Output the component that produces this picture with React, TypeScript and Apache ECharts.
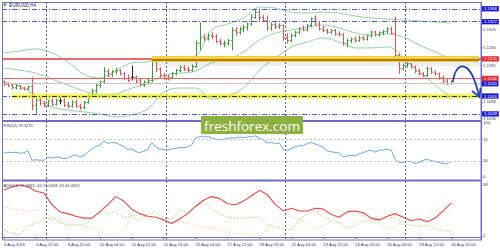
import React, { useEffect, useRef } from 'react';
import * as echarts from 'echarts';

// ---------- data ----------
const timeLabels = ['4 Aug 2016', '5 Aug 12:00', '8 Aug 20:00', '10 Aug 04:00', '11 Aug 12:00', '12 Aug 20:00', '16 Aug 04:00', '17 Aug 12:00', '18 Aug 20:00', '22 Aug 04:00', '23 Aug 12:00', '24 Aug 20:00', '26 Aug 04:00', '29 Aug 12:00', '30 Aug 20:00'];
const LABEL_STEP = 8;
const SLOT_COUNT = 120;
const weekStarts = [11, 41, 71, 101];

// [open, high, low, close] per H4 bar
const ohlc: number[][] = [
  [1.1145, 1.1150, 1.1133, 1.1138], [1.1138, 1.1143, 1.1130, 1.1134], [1.1134, 1.1142, 1.1124, 1.1128], [1.1128, 1.1138, 1.1124, 1.1133],
  [1.1133, 1.1136, 1.1122, 1.1126], [1.1126, 1.1130, 1.1120, 1.1124], [1.1124, 1.1134, 1.1121, 1.1131], [1.1131, 1.1160, 1.1060, 1.1075],
  [1.1075, 1.1098, 1.1046, 1.1090], [1.1090, 1.1098, 1.1075, 1.1080], [1.1080, 1.1088, 1.1070, 1.1074], [1.1074, 1.1092, 1.1070, 1.1088],
  [1.1088, 1.1095, 1.1072, 1.1078], [1.1078, 1.1094, 1.1074, 1.1090], [1.1088, 1.1100, 1.1078, 1.1088], [1.1088, 1.1096, 1.1070, 1.1075],
  [1.1075, 1.1085, 1.1066, 1.1072], [1.1072, 1.1090, 1.1068, 1.1085], [1.1085, 1.1092, 1.1068, 1.1072], [1.1072, 1.1080, 1.1062, 1.1068],
  [1.1068, 1.1088, 1.1064, 1.1083], [1.1083, 1.1108, 1.1080, 1.1103], [1.1103, 1.1125, 1.1098, 1.1118], [1.1118, 1.1140, 1.1112, 1.1135],
  [1.1135, 1.1150, 1.1128, 1.1146], [1.1146, 1.1190, 1.1140, 1.1178], [1.1178, 1.1185, 1.1160, 1.1168], [1.1168, 1.1182, 1.1160, 1.1176],
  [1.1176, 1.1188, 1.1168, 1.1180], [1.1180, 1.1185, 1.1165, 1.1170], [1.1170, 1.1175, 1.1150, 1.1155], [1.1155, 1.1168, 1.1145, 1.1150],
  [1.1160, 1.1195, 1.1150, 1.1160], [1.1160, 1.1165, 1.1140, 1.1148], [1.1148, 1.1155, 1.1132, 1.1138], [1.1138, 1.1150, 1.1130, 1.1145],
  [1.1145, 1.1155, 1.1138, 1.1150], [1.1150, 1.1220, 1.1145, 1.1210], [1.1210, 1.1215, 1.1175, 1.1185], [1.1185, 1.1190, 1.1158, 1.1165],
  [1.1165, 1.1172, 1.1152, 1.1160], [1.1160, 1.1168, 1.1150, 1.1158], [1.1158, 1.1175, 1.1155, 1.1170], [1.1170, 1.1185, 1.1165, 1.1180],
  [1.1180, 1.1195, 1.1175, 1.1190], [1.1190, 1.1196, 1.1178, 1.1184], [1.1184, 1.1192, 1.1175, 1.1180], [1.1180, 1.1198, 1.1176, 1.1192],
  [1.1192, 1.1270, 1.1188, 1.1262], [1.1262, 1.1325, 1.1240, 1.1280], [1.1280, 1.1290, 1.1268, 1.1275], [1.1275, 1.1292, 1.1270, 1.1285],
  [1.1285, 1.1295, 1.1275, 1.1283], [1.1283, 1.1290, 1.1262, 1.1268], [1.1268, 1.1275, 1.1255, 1.1260], [1.1260, 1.1270, 1.1250, 1.1262],
  [1.1262, 1.1275, 1.1255, 1.1270], [1.1270, 1.1310, 1.1240, 1.1300], [1.1300, 1.1310, 1.1285, 1.1295], [1.1295, 1.1312, 1.1288, 1.1305],
  [1.1305, 1.1318, 1.1295, 1.1310], [1.1310, 1.1325, 1.1300, 1.1320], [1.1320, 1.1350, 1.1315, 1.1340], [1.1340, 1.1366, 1.1335, 1.1355],
  [1.1355, 1.1362, 1.1330, 1.1340], [1.1340, 1.1348, 1.1325, 1.1330], [1.1330, 1.1345, 1.1300, 1.1308], [1.1308, 1.1325, 1.1300, 1.1318],
  [1.1318, 1.1325, 1.1305, 1.1312], [1.1312, 1.1322, 1.1305, 1.1316], [1.1316, 1.1318, 1.1270, 1.1280], [1.1280, 1.1292, 1.1262, 1.1270],
  [1.1270, 1.1292, 1.1265, 1.1285], [1.1285, 1.1300, 1.1280, 1.1295], [1.1295, 1.1310, 1.1290, 1.1305], [1.1305, 1.1315, 1.1298, 1.1302],
  [1.1302, 1.1320, 1.1298, 1.1315], [1.1315, 1.1340, 1.1310, 1.1336], [1.1336, 1.1346, 1.1315, 1.1320], [1.1320, 1.1326, 1.1300, 1.1305],
  [1.1305, 1.1315, 1.1296, 1.1300], [1.1300, 1.1306, 1.1290, 1.1295], [1.1295, 1.1305, 1.1290, 1.1300], [1.1300, 1.1305, 1.1285, 1.1290],
  [1.1290, 1.1298, 1.1282, 1.1288], [1.1288, 1.1292, 1.1255, 1.1262], [1.1262, 1.1275, 1.1250, 1.1270], [1.1270, 1.1280, 1.1262, 1.1275],
  [1.1275, 1.1282, 1.1265, 1.1270], [1.1270, 1.1285, 1.1266, 1.1278], [1.1278, 1.1285, 1.1270, 1.1274], [1.1274, 1.1288, 1.1270, 1.1284],
  [1.1284, 1.1300, 1.1280, 1.1296], [1.1296, 1.1300, 1.1282, 1.1288], [1.1288, 1.1298, 1.1282, 1.1294], [1.1294, 1.1302, 1.1286, 1.1298],
  [1.1298, 1.1310, 1.1290, 1.1305], [1.1305, 1.1312, 1.1288, 1.1292], [1.1292, 1.1342, 1.1215, 1.1225], [1.1225, 1.1232, 1.1170, 1.1185],
  [1.1185, 1.1200, 1.1180, 1.1195], [1.1195, 1.1205, 1.1188, 1.1200], [1.1200, 1.1203, 1.1186, 1.1190], [1.1190, 1.1195, 1.1172, 1.1178],
  [1.1178, 1.1185, 1.1166, 1.1170], [1.1170, 1.1175, 1.1160, 1.1165], [1.1165, 1.1192, 1.1160, 1.1185], [1.1185, 1.1190, 1.1170, 1.1175],
  [1.1175, 1.1180, 1.1165, 1.1170], [1.1170, 1.1174, 1.1152, 1.1158], [1.1158, 1.1165, 1.1140, 1.1148], [1.1148, 1.1155, 1.1135, 1.1140],
  [1.1140, 1.1150, 1.1138, 1.1146],
];

// Bollinger bands read every 4 bars
const BB_STEP = 4;
const bbUpper = [1.1233, 1.1239, 1.1245, 1.1233, 1.1206, 1.1169, 1.1157, 1.1181, 1.1203, 1.1206, 1.1218, 1.1218, 1.1224, 1.1302, 1.1320, 1.1338, 1.1371, 1.1368, 1.1356, 1.1353, 1.1356, 1.1353, 1.1344, 1.1338, 1.1335, 1.1332, 1.1329, 1.1326, 1.1323];
const bbMiddle = [1.1187, 1.1181, 1.1172, 1.1154, 1.1136, 1.1118, 1.1106, 1.1109, 1.1127, 1.1139, 1.1166, 1.1172, 1.1178, 1.1203, 1.1212, 1.1236, 1.1272, 1.1293, 1.1302, 1.1311, 1.1317, 1.1308, 1.1293, 1.1287, 1.1290, 1.1281, 1.1257, 1.1236, 1.1215];
const bbLower = [1.1145, 1.1133, 1.1103, 1.1070, 1.1061, 1.1055, 1.1049, 1.1040, 1.1046, 1.1064, 1.1115, 1.1127, 1.1127, 1.1094, 1.1103, 1.1127, 1.1181, 1.1218, 1.1251, 1.1266, 1.1278, 1.1266, 1.1248, 1.1248, 1.1251, 1.1221, 1.1175, 1.1136, 1.1100];

const rsi = [
  44, 46, 45, 46, 44, 45, 49, 31, 32, 31,
  31, 37, 35, 37, 36, 34, 35, 39, 41, 37,
  40, 46, 52, 56, 59, 67, 62, 64, 63, 60,
  56, 51, 52, 47, 45, 48, 50, 64, 56, 52,
  51, 50, 52, 53, 55, 54, 56, 59, 72, 75,
  74, 75, 73, 70, 69, 70, 71, 73, 72, 74,
  73, 74, 75, 76, 72, 68, 63, 64, 62, 63,
  50, 49, 53, 56, 58, 58, 62, 64, 61, 58,
  55, 48, 47, 45, 45, 37, 39, 40, 39, 43,
  45, 48, 50, 46, 50, 50, 51, 50, 32, 27,
  27, 29, 28, 25, 27, 31, 33, 30, 29, 27,
  25, 24, 29.33,
];

// ADX lines read every 2 bars
const ADX_STEP = 2;
const adx = [52, 56, 58, 56, 51, 49, 36, 28, 26, 23, 21, 21, 28, 36, 45, 40, 31, 26, 23, 22, 19, 15, 20, 26, 34, 41, 45, 43, 37, 36, 40, 46, 52, 47, 36, 29, 32, 29, 29, 32, 31, 25, 22, 28, 29, 27, 21, 19, 23, 26, 22, 18, 20, 17, 21, 29, 37.7];
const plusDI = [8, 4, 2, 12, 15, 20, 21, 16, 13, 13, 14, 19, 30, 26, 28, 21, 24, 17, 26, 28, 21, 20, 30, 27, 36, 41, 32, 26, 22, 21, 21, 22, 22, 14, 11, 9, 8, 20, 26, 29, 22, 19, 15, 10, 12, 18, 18, 19, 22, 21, 14, 13, 12, 13, 9, 7, 6];
const minusDI = [34, 32, 30, 28, 30, 27, 22, 19, 16, 14, 12, 9, 6, 3, 2, 8, 24, 24, 21, 17, 17, 18, 17, 16, 12, 11, 10, 8, 6, 4, 3, 2, 3, 9, 18, 24, 23, 20, 15, 8, 13, 18, 25, 30, 28, 24, 20, 15, 9, 11, 19, 19, 17, 21, 29, 28, 27];

const priceAxisLabels = [1.1305, 1.125, 1.1195, 1.1085, 1.1036];
const rsiAxisLabels = [100, 70, 30, 0];
const adxAxisLabels = [58, 1];
const rsiLevels = [70, 30];
const blueLevelsTop = [1.1366, 1.1327];
const resistance = 1.1215;
const resistanceFromBar = 37;
const redLevel = 1.1156;
const bidLevel = 1.114;
const support = 1.1103;
const supportFromBar = 2;
const lowLevel = 1.1049;

// ---------- styles ----------
const PRICE_MIN = 1.10307, PRICE_MAX = 1.13864;
const FRAME = '#6e6ec8';
const TXT = '#3a3a5a';
const FONT = '"Liberation Sans", Arial, sans-serif';
const FS = 4.2;
const GREEN = '#3b9e3b', RED = '#ef4f4f', DOJI = '#222222';
const BB = '#8fd5a8';
const BLUE_DASH = '#5757ee';
const BOX_BLUE = '#1a1ad6', BOX_RED = '#f42424';
const SEP = '#5a5aa8';
const DASHDOT = [5, 2, 1, 2];

export default function App() {
  const ref = useRef<HTMLDivElement>(null);
  useEffect(() => {
    document.body.style.margin = '0';
    const chart = echarts.init(ref.current!, null, { renderer: 'svg' });
    const cats = Array.from({ length: SLOT_COUNT }, (_, i) => String(i));
    const labelAt = (i: number) => (i % LABEL_STEP === 0 && i / LABEL_STEP < timeLabels.length);

    const xAxisFor = (gridIndex: number, bottom = false) => ({
      type: 'category', gridIndex, data: cats, boundaryGap: true,
      axisLine: { show: bottom, lineStyle: { color: FRAME } },
      axisTick: { show: bottom, alignWithLabel: true, length: 2, interval: (i: number) => labelAt(i), lineStyle: { color: FRAME } },
      axisLabel: {
        show: bottom, interval: (i: number) => labelAt(i), align: 'left', margin: 2.5,
        fontSize: FS, color: TXT, fontFamily: FONT,
        formatter: (_v: string, i: number) => (labelAt(i) ? timeLabels[i / LABEL_STEP] : ''),
      },
      splitLine: { show: false },
    });
    const yAxisFor = (gridIndex: number, min: number, max: number, labels: number[], fmt: (v: number) => string) => ({
      type: 'value', gridIndex, position: 'right', min, max,
      axisLine: { show: true, lineStyle: { color: FRAME } },
      axisTick: { show: true, customValues: labels, length: 1.5, lineStyle: { color: FRAME } },
      axisLabel: { customValues: labels, formatter: fmt, fontSize: FS, color: TXT, fontFamily: FONT, margin: 2 },
      splitLine: { show: false },
    });

    const separators = (idx: number, yVal: number) => ({
      type: 'custom', xAxisIndex: idx, yAxisIndex: idx, z: 1, silent: true,
      data: weekStarts.map((w) => [w, yVal]),
      renderItem: (params: any, api: any) => {
        const cs = params.coordSys;
        const c = api.coord([api.value(0), api.value(1)]);
        const bw = api.size([1, 0])[0];
        const x = Math.round(c[0] - bw / 2) + 0.5;
        return { type: 'line', shape: { x1: x, y1: cs.y, x2: x, y2: cs.y + cs.height }, style: { stroke: SEP, lineWidth: 1, lineDash: [2, 2] } };
      },
    });

    const boxLabel = (text: string, bg: string) => ({
      show: true, position: 'end', distance: 1, formatter: text, color: '#ffffff', backgroundColor: bg,
      fontSize: FS, fontFamily: FONT, padding: [0.5, 2, 0.2, 2], lineHeight: 4.6,
    });
    const hLine = (y: number, lineStyle: any, label?: any) => ({ yAxis: y, lineStyle, label: label || { show: false } });
    const seg = (fromBar: number, y: number, lineStyle: any) => [
      { coord: [fromBar, y], lineStyle, label: { show: false } },
      { coord: [SLOT_COUNT - 1, y] },
    ];

    const levelMarks = {
      silent: true, symbol: ['none', 'none'], animation: false, precision: 4, label: { show: false },
      data: [
        hLine(blueLevelsTop[0], { color: BLUE_DASH, type: DASHDOT, width: 1 }, boxLabel(blueLevelsTop[0].toFixed(4), BOX_BLUE)),
        hLine(blueLevelsTop[1], { color: BLUE_DASH, type: DASHDOT, width: 1 }, boxLabel(blueLevelsTop[1].toFixed(4), BOX_BLUE)),
        hLine(resistance, { color: '#f06868', type: 'solid', width: 2 }, boxLabel(resistance.toFixed(4), BOX_RED)),
        seg(resistanceFromBar, resistance - 0.0014, { color: 'rgba(90,90,90,0.10)', type: 'solid', width: 4 }),
        seg(resistanceFromBar, resistance, { color: '#f3cf4a', type: 'solid', width: 6 }),
        seg(resistanceFromBar, resistance - 0.0002, { color: '#b47d00', type: 'solid', width: 2 }),
        hLine(bidLevel, { color: '#c4c4c4', type: 'solid', width: 1 }, boxLabel(bidLevel.toFixed(4), BOX_BLUE)),
        hLine(redLevel, { color: '#ff5c5c', type: 'solid', width: 1 }, boxLabel(redLevel.toFixed(4), BOX_RED)),
        hLine(support, { color: BLUE_DASH, type: DASHDOT, width: 1 }, boxLabel(support.toFixed(4), BOX_BLUE)),
        seg(supportFromBar, support, { color: 'rgba(235,235,20,0.35)', type: 'solid', width: 6 }),
        seg(supportFromBar, support, { color: '#ecec10', type: 'solid', width: 2.5 }),
        seg(supportFromBar, support, { color: '#2a2a2a', type: DASHDOT, width: 1 }),
        hLine(lowLevel, { color: BLUE_DASH, type: DASHDOT, width: 1 }, boxLabel(lowLevel.toFixed(4), BOX_BLUE)),
      ],
    };

    const bandSeries = (name: string, arr: number[], withMarks = false) => ({
      name, type: 'line', xAxisIndex: 0, yAxisIndex: 0, z: withMarks ? 2 : 3,
      data: arr.map((v, k) => [k * BB_STEP, v]), smooth: 0.35, symbol: 'none',
      lineStyle: { color: BB, width: 1 }, silent: true,
      ...(withMarks ? { markLine: levelMarks } : {}),
    });

    const option: any = {
      animation: false,
      backgroundColor: '#ffffff',
      grid: [
        { left: 2, right: 19, top: 2, height: 118 },
        { left: 2, right: 19, top: 121, height: 59 },
        { left: 2, right: 19, top: 181, height: 59 },
      ],
      xAxis: [xAxisFor(0), xAxisFor(1), xAxisFor(2, true)],
      yAxis: [
        yAxisFor(0, PRICE_MIN, PRICE_MAX, priceAxisLabels, (v) => v.toFixed(4)),
        yAxisFor(1, -5.6, 103.7, rsiAxisLabels, (v) => String(v)),
        yAxisFor(2, -3.47, 62.45, adxAxisLabels, (v) => String(v)),
      ],
      series: [
        separators(0, PRICE_MIN),
        separators(1, 0),
        separators(2, 0),
        bandSeries('bbLevels', bbLower, true),
        bandSeries('bbUpper', bbUpper),
        bandSeries('bbMiddle', bbMiddle),
        {
          type: 'custom', name: 'EURUSD', xAxisIndex: 0, yAxisIndex: 0, z: 4, silent: true,
          data: ohlc.map((d, i) => [i, d[0], d[1], d[2], d[3]]),
          encode: { x: 0, y: [1, 2, 3, 4] },
          renderItem: (_p: any, api: any) => {
            const i = api.value(0);
            const o = api.value(1), h = api.value(2), l = api.value(3), c = api.value(4);
            const po = api.coord([i, o]), ph = api.coord([i, h]), pl = api.coord([i, l]), pc = api.coord([i, c]);
            const color = c > o ? GREEN : c < o ? RED : DOJI;
            const x = Math.round(po[0]) + 0.5;
            const st = { stroke: color, lineWidth: 1 };
            return {
              type: 'group', children: [
                { type: 'line', shape: { x1: x, y1: ph[1], x2: x, y2: pl[1] }, style: st },
                { type: 'line', shape: { x1: x - 1.5, y1: po[1], x2: x, y2: po[1] }, style: st },
                { type: 'line', shape: { x1: x, y1: pc[1], x2: x + 1.5, y2: pc[1] }, style: st },
              ],
            };
          },
        },
        {
          name: 'RSI', type: 'line', xAxisIndex: 1, yAxisIndex: 1, z: 3, data: rsi, symbol: 'none', silent: true,
          lineStyle: { color: '#62aaf2', width: 1 },
          markLine: {
            silent: true, symbol: ['none', 'none'], label: { show: false }, precision: 4,
            lineStyle: { color: '#c8c8c8', type: [2, 2], width: 1 },
            data: rsiLevels.map((v) => ({ yAxis: v })),
          },
        },
        {
          name: '-DI', type: 'line', xAxisIndex: 2, yAxisIndex: 2, z: 2, symbol: 'none', silent: true,
          data: minusDI.map((v, k) => [k * ADX_STEP, v]),
          lineStyle: { color: '#f5cfa8', width: 1, type: [1.5, 1.5] },
        },
        {
          name: '+DI', type: 'line', xAxisIndex: 2, yAxisIndex: 2, z: 3, symbol: 'none', silent: true,
          data: plusDI.map((v, k) => [k * ADX_STEP, v]),
          lineStyle: { color: '#b4d670', width: 1, type: [1.5, 1.5] },
        },
        {
          name: 'ADX', type: 'line', xAxisIndex: 2, yAxisIndex: 2, z: 4, symbol: 'none', silent: true,
          data: adx.map((v, k) => [k * ADX_STEP, v]),
          lineStyle: { color: '#f04545', width: 1.1 },
        },
      ],
      graphic: {
        elements: [
          { type: 'rect', z: 50, silent: true, shape: { x: 2.5, y: 2.5, width: 478.5, height: 237.5 }, style: { fill: 'none', stroke: FRAME, lineWidth: 1 } },
          { type: 'line', z: 50, silent: true, shape: { x1: 2, y1: 121, x2: 481, y2: 121 }, style: { stroke: FRAME, lineWidth: 2 } },
          { type: 'line', z: 50, silent: true, shape: { x1: 2, y1: 180.5, x2: 481, y2: 180.5 }, style: { stroke: FRAME, lineWidth: 2 } },
          { type: 'polygon', z: 51, silent: true, shape: { points: [[3, 3.5], [7, 3.5], [5, 7]] }, style: { fill: '#4aa04a' } },
          { type: 'text', z: 51, silent: true, x: 9, y: 5.2, style: { text: 'EURUSD,H4', fontSize: 4.7, fill: '#28285a', fontFamily: FONT, verticalAlign: 'middle' } },
          { type: 'text', z: 51, silent: true, x: 3.5, y: 125.5, style: { text: 'RSI(14) 29.3270', fontSize: 4, fill: '#34346a', fontFamily: FONT, verticalAlign: 'middle' } },
          { type: 'text', z: 51, silent: true, x: 3.5, y: 185.3, style: { text: 'ADX(14) 37.6843 +DI:16.0418 -DI:24.4653', fontSize: 4, fill: '#34346a', fontFamily: FONT, verticalAlign: 'middle' } },
          { type: 'rect', z: 60, silent: true, shape: { x: 201, y: 116, width: 102, height: 18, r: 1 }, style: { fill: '#8db13f' } },
          { type: 'text', z: 61, silent: true, x: 252, y: 125.5, style: { text: 'freshforex.com', fontSize: 13.5, fill: '#ffffff', fontFamily: '"Open Sans", "Noto Sans", sans-serif', align: 'center', verticalAlign: 'middle' } },
          { type: 'bezierCurve', z: 55, silent: true, shape: { x1: 453, y1: 82, cpx1: 455, cpy1: 62, cpx2: 470, cpy2: 56, x2: 479, y2: 96 }, style: { stroke: '#2241c4', lineWidth: 1.8, fill: 'none' } },
          { type: 'polyline', z: 55, silent: true, shape: { points: [[472, 91], [479.5, 97], [480.5, 88]] }, style: { stroke: '#2241c4', lineWidth: 1.8, fill: 'none' } },
        ],
      },
    };
    chart.setOption(option);
    return () => chart.dispose();
  }, []);
  return <div ref={ref} style={{ width: 500, height: 250 }} />;
}
